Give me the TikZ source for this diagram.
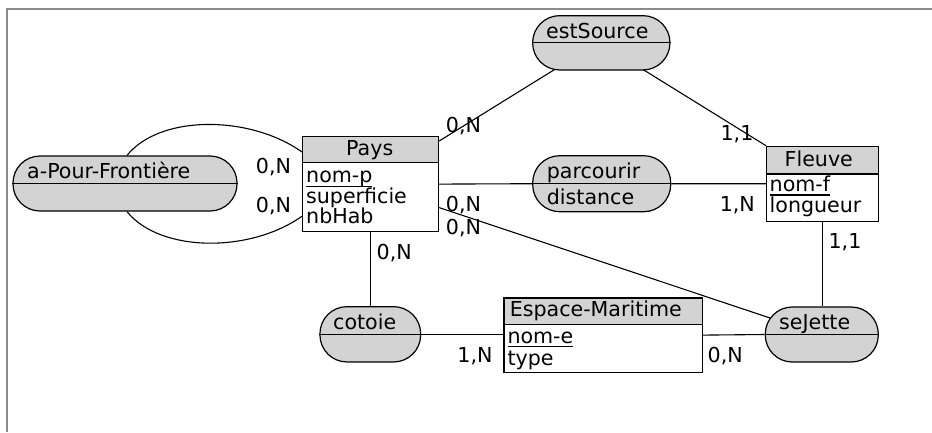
\documentclass[tikz,border=0pt]{standalone}
\usepackage{fontspec}
\setmainfont{DejaVu Sans}
\usetikzlibrary{calc,backgrounds}
\definecolor{hdr}{RGB}{211,211,211}
\definecolor{framegray}{RGB}{140,140,140}
\newcommand\keyattr[1]{\setbox0\hbox{#1}\rlap{\raisebox{-4pt}{\rule{\wd0}{1.3pt}}}\box0}
\begin{document}
\begin{tikzpicture}[x=1pt,y=-1pt,
  font=\fontsize{20.6}{21}\selectfont,
  entity/.style={draw, line width=1.2pt, fill=white, inner sep=0pt, anchor=north west},
  ehead/.style={draw, line width=1.2pt, fill=hdr, inner sep=0pt, anchor=north west},
  relation/.style={draw, line width=1.2pt, fill=hdr, rounded corners=27pt, inner sep=0pt},
  divider/.style={line width=1.2pt},
  conn/.style={line width=1.1pt},
  lbl/.style={anchor=base, inner sep=0pt},
  txt/.style={anchor=base west, inner sep=0pt},
  ttl/.style={anchor=base, inner sep=0pt}]
\useasboundingbox (0,0) rectangle (932,432);
\draw[framegray, line width=1.2pt] (932,9) -- (7,9) -- (7,432);

% entities
\node[entity, minimum width=136pt, minimum height=95pt] (pays) at (302,136) {};
\node[ehead, minimum width=136pt, minimum height=26pt] (paysH) at (pays.north west) {};
\node[ttl] (paysT) at (369.7,155.7) {Pays};
\node[txt] (paysA1) at (306,182.8) {\keyattr{nom-p}};
\node[txt] (paysA2) at (306,203.1) {superficie};
\node[txt] (paysA3) at (306,223.4) {nbHab};

\node[entity, minimum width=111.5pt, minimum height=74.8pt] (fleuve) at (766,145.7) {};
\node[ehead, minimum width=111.5pt, minimum height=27.6pt] (fleuveH) at (fleuve.north west) {};
\node[ttl] (fleuveT) at (818.8,166.7) {Fleuve};
\node[txt] (fleuveA1) at (769.5,191.7) {\keyattr{nom-f}};
\node[txt] (fleuveA2) at (769.5,212.7) {longueur};

\node[entity, minimum width=198.4pt, minimum height=74.4pt] (esp) at (503.3,297.3) {};
\node[ehead, minimum width=198.4pt, minimum height=26.7pt] (espH) at (esp.north west) {};
\node[ttl] (espT) at (595.8,316.7) {Espace-Maritime};
\node[txt] (espA1) at (507.3,343.3) {\keyattr{nom-e}};
\node[txt] (espA2) at (507.3,365) {type};

% relations
\node[relation, minimum width=224pt, minimum height=55pt] (apf) at (125,183.5) {};
\draw[divider] (apf.west) -- (apf.east);
\node[txt] (apfT) at (27,178.3) {a-Pour-Frontière};

\node[relation, minimum width=137.3pt, minimum height=54.3pt] (ests) at (601.3,42.8) {};
\draw[divider] (ests.west) -- (ests.east);
\node[txt] (estsT) at (546,38.3) {estSource};

\node[relation, minimum width=138pt, minimum height=56pt] (parc) at (601.7,183.7) {};
\draw[divider] (parc.west) -- (parc.east);
\node[txt] (parcT) at (546.7,178.3) {parcourir};
\node[txt] (parcA) at (546.7,204) {distance};

\node[relation, minimum width=100.7pt, minimum height=55.3pt] (cotoie) at (370.3,334.3) {};
\draw[divider] (cotoie.west) -- (cotoie.east);
\node[txt] (cotoieT) at (333,329.3) {cotoie};

\node[relation, minimum width=113pt, minimum height=55pt] (sej) at (821.8,334.5) {};
\draw[divider] (sej.west) -- (sej.east);
\node[txt] (sejT) at (779,329.3) {seJette};

% connectors
\begin{scope}[on background layer]
\draw[conn] ($(apf.north)+(2,0)$) .. controls ($(apf.north)+(35,-41)$) and ($(pays.north west)+(-52,-21)$) .. ($(pays.north west)+(0,16)$);
\draw[conn] ($(apf.south)+(2,0)$) .. controls ($(apf.south)+(35,41)$) and ($(pays.south west)+(-52,21)$) .. ($(pays.south west)+(0,-16)$);
\draw[conn] ($(pays.north east)+(0,5)$) -- ($(ests.south west)+(37,-10)$);
\draw[conn] (fleuve.north west) -- ($(ests.south east)+(-42,-10)$);
\draw[conn] (pays.east) -- (parc.west);
\draw[conn] (parc.east) -- (fleuve.west);
\draw[conn] ($(pays.east)+(0,23.5)$) -- ($(sej.west)+(25,-10)$);
\draw[conn] (pays.south) -- (pays.south |- cotoie.north);
\draw[conn] (cotoie.east) -- (esp.west |- cotoie.east);
\draw[conn] (esp.east) -- (sej.west);
\draw[conn] (fleuve.south) -- (fleuve.south |- sej.north);
\end{scope}

% cardinalities
\node[lbl] (l1) at (273.5,173.3) {0,N};
\node[lbl] (l2) at (273.5,212.7) {0,N};
\node[lbl] (l3) at (463.5,132.5) {0,N};
\node[lbl] (l4) at (737,140) {1,1};
\node[lbl] (l5) at (463.5,211.5) {0,N};
\node[lbl] (l6) at (463.5,234) {0,N};
\node[lbl] (l7) at (737.3,211) {1,N};
\node[lbl] (l8) at (394.2,259) {0,N};
\node[lbl] (l9) at (475,362.7) {1,N};
\node[lbl] (l10) at (725.2,362.5) {0,N};
\node[lbl] (l11) at (845,248.7) {1,1};
\end{tikzpicture}
\end{document}
